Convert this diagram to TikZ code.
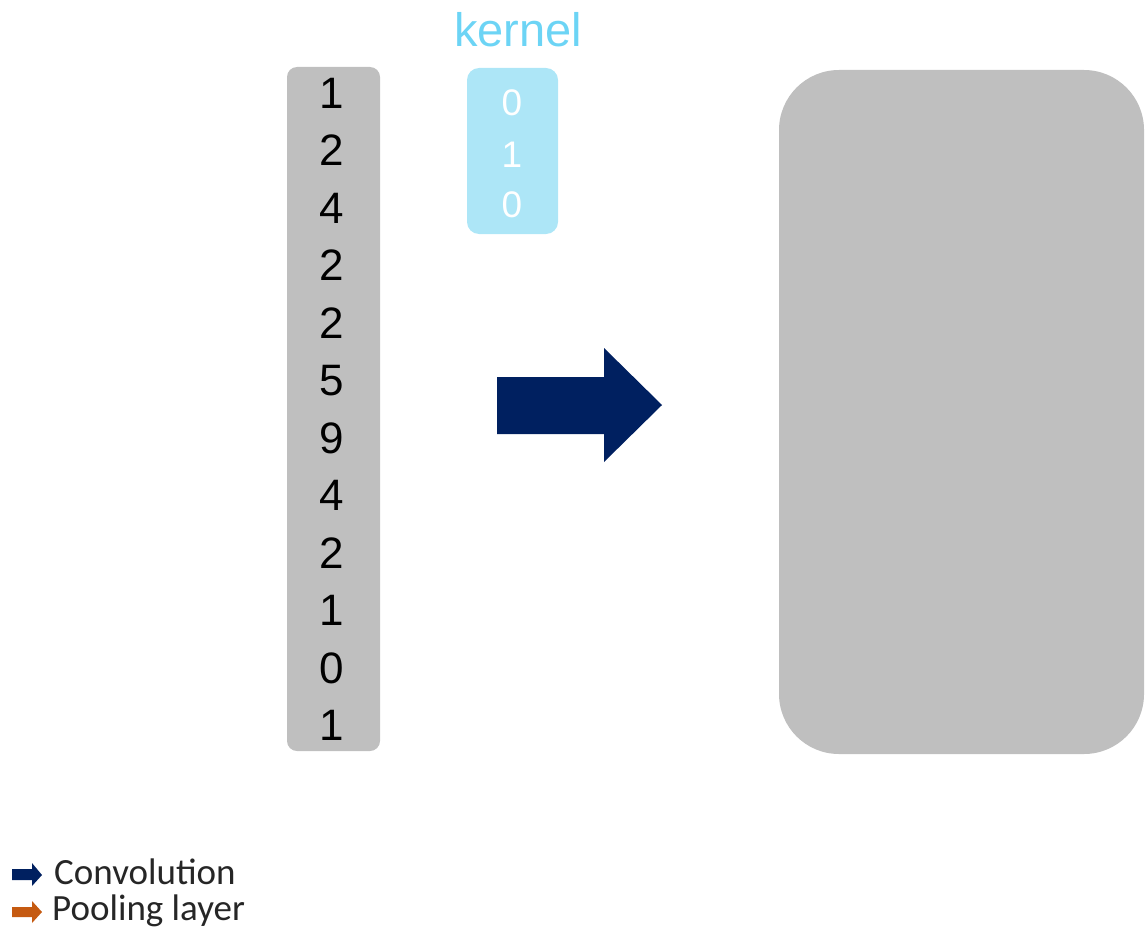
\documentclass[tikz,border=0pt]{standalone}
\usepackage{fontspec}
\setmainfont{Liberation Sans}
\newfontfamily\calibrifont{Carlito}
\definecolor{boxgray}{RGB}{191,191,191}
\definecolor{kernelfill}{RGB}{173,230,247}
\definecolor{kernelblue}{RGB}{108,212,245}
\definecolor{navy}{RGB}{0,32,96}
\definecolor{rust}{RGB}{197,90,17}
\tikzset{
  digit/.style={font=\fontsize{44}{44}\selectfont, text=black, inner sep=0pt, anchor=center},
  kdigit/.style={font=\fontsize{37}{37}\selectfont, text=white, inner sep=0pt, anchor=center},
  legendtext/.style={font=\calibrifont\fontsize{37}{37}\selectfont, text=black!85, inner sep=0pt, anchor=west},
}
\begin{document}
\begin{tikzpicture}[x=1pt,y=-1pt]
\useasboundingbox (0,0) rectangle (1147,931);
% input column
\fill[boxgray, rounded corners=10pt] (287,67) rectangle (380,751);
\foreach \v [count=\i from 0] in {1,2,4,2,2,5,9,4,2,1,0,1} {
  \node[digit] (in\i) at (332,{93+57.5*\i}) {\v};
}
% kernel
\node[font=\fontsize{47}{47}\selectfont, text=kernelblue, inner sep=0pt] (klabel) at (518,30) {kernel};
\fill[kernelfill, rounded corners=12pt] (467,68) rectangle (558,234);
\node[kdigit] (k0) at (512,103) {0};
\node[kdigit] (k1) at (512,155) {1};
\node[kdigit] (k2) at (512,205) {0};
% big arrow
\fill[navy] (497,377) -- (604,377) -- (604,348) -- (662,405) -- (604,462) -- (604,434) -- (497,434) -- cycle;
% output box
\fill[boxgray, rounded corners=60pt] (779,70) rectangle (1144,754);
% legend
\fill[navy] (12,869) -- (32,869) -- (32,863) -- (42,875) -- (32,886) -- (32,880) -- (12,880) -- cycle;
\fill[rust] (12,907) -- (32,907) -- (32,901) -- (42,912) -- (32,923) -- (32,917) -- (12,917) -- cycle;
\node[legendtext] (lconv) at (54,872) {Convolution};
\node[legendtext] (lpool) at (52,911) {Pooling layer};
\end{tikzpicture}
\end{document}
